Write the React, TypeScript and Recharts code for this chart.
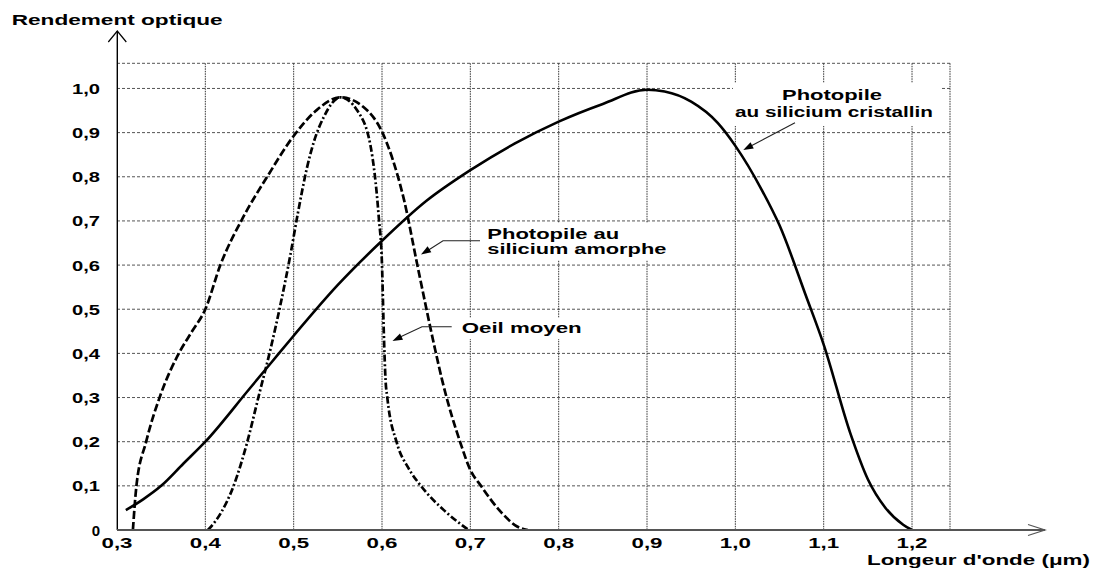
import React from "react";
import { LineChart, Line, XAxis, YAxis, CartesianGrid } from "recharts";

// axis ticks and grid
const X_TICKS = [0.3, 0.4, 0.5, 0.6, 0.7, 0.8, 0.9, 1.0, 1.1, 1.2];
const Y_TICKS = [0, 0.1, 0.2, 0.3, 0.4, 0.5, 0.6, 0.7, 0.8, 0.9, 1.0];
const X_GRID = [0.4, 0.5, 0.6, 0.7, 0.8, 0.9, 1.0, 1.1, 1.2, 1.243];
const Y_GRID = [0.1, 0.2, 0.3, 0.4, 0.5, 0.6, 0.7, 0.8, 0.9, 1.0, 1.057];

// Photopile au silicium cristallin (solid)
const CRIST_X = [0.31, 0.33, 0.35, 0.375, 0.4, 0.45, 0.475, 0.5, 0.55, 0.6, 0.65, 0.7, 0.75, 0.8, 0.85, 0.9, 0.92, 0.95, 0.98, 1.0, 1.03, 1.05, 1.08, 1.1, 1.13, 1.15, 1.17, 1.19, 1.2];
const CRIST_Y = [0.045, 0.07, 0.1, 0.15, 0.2, 0.32, 0.38, 0.44, 0.555, 0.655, 0.745, 0.815, 0.875, 0.925, 0.965, 0.997, 0.993, 0.97, 0.922, 0.87, 0.77, 0.69, 0.53, 0.42, 0.22, 0.115, 0.05, 0.012, 0];

// Photopile au silicium amorphe (dashed)
const AMORPHE_X = [0.318, 0.322, 0.333, 0.35, 0.37, 0.385, 0.4, 0.417, 0.443, 0.47, 0.498, 0.526, 0.553, 0.579, 0.6, 0.612, 0.625, 0.64, 0.66, 0.668, 0.689, 0.7, 0.712, 0.735, 0.753, 0.765];
const AMORPHE_Y = [0, 0.1, 0.2, 0.31, 0.4, 0.45, 0.5, 0.6, 0.709, 0.8, 0.887, 0.951, 0.98, 0.958, 0.902, 0.84, 0.747, 0.6, 0.41, 0.34, 0.196, 0.136, 0.1, 0.04, 0.008, 0];

// Oeil moyen (dash-dot)
const OEIL_X = [0.403, 0.418, 0.432, 0.447, 0.46, 0.475, 0.485, 0.496, 0.505, 0.515, 0.523, 0.534, 0.553, 0.572, 0.587, 0.5963, 0.6, 0.602, 0.604, 0.606, 0.617, 0.63, 0.644, 0.67, 0.698];
const OEIL_Y = [0, 0.04, 0.1, 0.196, 0.3, 0.42, 0.51, 0.62, 0.72, 0.82, 0.88, 0.935, 0.98, 0.95, 0.87, 0.709, 0.6, 0.45, 0.34, 0.3, 0.196, 0.14, 0.1, 0.045, 0];

const zip = (xs: number[], ys: number[]) => xs.map((x, i) => ({ x, y: ys[i] }));

const FONT = "'Liberation Sans', Arial, Helvetica, sans-serif";
const fmt = (v: number) => (v === 0 ? "0" : v.toFixed(1).replace(".", ","));

const YTick = (props: any) => {
  const { x, y, payload } = props;
  const label = fmt(payload.value);
  return (
    <text x={x} y={y} dy={5.5} textAnchor="end" fontFamily={FONT} fontSize={15} fontWeight="bold" fill="#000"
      textLength={label.length > 1 ? 28 : undefined} lengthAdjust="spacingAndGlyphs">
      {label}
    </text>
  );
};

const XTick = (props: any) => {
  const { x, y, payload } = props;
  const label = fmt(payload.value);
  return (
    <text x={x} y={y} dy={18} textAnchor="middle" fontFamily={FONT} fontSize={14.5} fontWeight="bold" fill="#000"
      textLength={31} lengthAdjust="spacingAndGlyphs">
      {label}
    </text>
  );
};

const head = (x1: number, y1: number, x2: number, y2: number, len = 10, w = 3.5) => {
  const dx = x2 - x1, dy = y2 - y1;
  const L = Math.hypot(dx, dy);
  const ux = dx / L, uy = dy / L;
  const bx = x2 - ux * len, by = y2 - uy * len;
  return `${x2},${y2} ${bx - uy * w},${by + ux * w} ${bx + uy * w},${by - ux * w}`;
};

const Txt = ({ x, y, w, anchor = "start", size = 14, children }: any) => (
  <text x={x} y={y} textAnchor={anchor} fontFamily={FONT} fontSize={size} fontWeight="bold" fill="#000"
    textLength={w} lengthAdjust="spacingAndGlyphs">
    {children}
  </text>
);

const Overlay = () => (
  <svg width={1093} height={569} style={{ position: "absolute", left: 0, top: 0, pointerEvents: "none" }}>
    {/* label backgrounds hiding the grid */}
    <rect x={733} y={83} width={207} height={43} fill="#fff" />
    <rect x={485} y={223} width={186} height={37} fill="#fff" />
    <rect x={458} y={318} width={127} height={21} fill="#fff" />

    {/* axes */}
    <line x1={117.3} y1={530} x2={117.3} y2={31} stroke="#000" strokeWidth={1.4} />
    <polyline points="108.3,42 117.3,31 126.3,42" fill="none" stroke="#000" strokeWidth={1.2} />
    <line x1={117} y1={530} x2={1045} y2={530} stroke="#555" strokeWidth={1.8} />
    <polyline points="1028,524.5 1045,530 1028,535.5" fill="none" stroke="#555" strokeWidth={1.2} />

    <Txt x={11.7} y={25} w={211}>Rendement optique</Txt>
    <Txt x={867} y={565} w={223} size={15}>Longeur d'onde (μm)</Txt>

    <Txt x={832} y={99.5} w={100} anchor="middle" size={14.5}>Photopile</Txt>
    <Txt x={834} y={116.7} w={198} anchor="middle" size={14.5}>au silicium cristallin</Txt>
    <line x1={795} y1={122.7} x2={749} y2={147} stroke="#222" strokeWidth={1.1} />
    <polygon points={head(795, 122.7, 743.3, 150)} fill="#000" />

    <Txt x={487.3} y={239.3} w={132}>Photopile au</Txt>
    <Txt x={487.3} y={254.3} w={179}>silicium amorphe</Txt>
    <polyline points="480,240.7 443,240.7 427,251" fill="none" stroke="#222" strokeWidth={1.1} />
    <polygon points={head(443, 240.7, 421, 254.5)} fill="#000" />

    <Txt x={461.7} y={333.3} w={120}>Oeil moyen</Txt>
    <polyline points="451.7,326.7 422,326.7 398,338" fill="none" stroke="#222" strokeWidth={1.1} />
    <polygon points={head(422, 326.7, 392.5, 341)} fill="#000" />
  </svg>
);

export default function App() {
  return (
    <div style={{ position: "absolute", left: 0, top: 0, width: 1093, height: 569, background: "#fff" }}>
      <LineChart width={1093} height={569} margin={{ top: 63.3, right: 143, bottom: 9, left: 57 }}>
        <CartesianGrid vertical={false} horizontalValues={Y_GRID} stroke="#555" strokeDasharray="3 2" />
        <CartesianGrid horizontal={false} verticalValues={X_GRID} stroke="#333" strokeDasharray="1.5 1" />
        <XAxis type="number" dataKey="x" domain={[0.3, 1.243]} ticks={X_TICKS} allowDataOverflow
          axisLine={false} tickLine={false} tickSize={0} tickMargin={0} height={30} tick={<XTick />} interval={0} />
        <YAxis type="number" dataKey="y" domain={[0, 1.057]} ticks={Y_TICKS} allowDataOverflow
          axisLine={false} tickLine={false} tickSize={0} tickMargin={17} width={60} tick={<YTick />} interval={0} />
        <Line data={zip(CRIST_X, CRIST_Y)} dataKey="y" type="monotone" dot={false} stroke="#000"
          strokeWidth={2.6} isAnimationActive={false} />
        <Line data={zip(AMORPHE_X, AMORPHE_Y)} dataKey="y" type="monotone" dot={false} stroke="#000"
          strokeWidth={2.7} strokeDasharray="8 3" isAnimationActive={false} />
        <Line data={zip(OEIL_X, OEIL_Y)} dataKey="y" type="monotone" dot={false} stroke="#000"
          strokeWidth={2.7} strokeDasharray="7 2.5 2 2.5" isAnimationActive={false} />
      </LineChart>
      <Overlay />
    </div>
  );
}
